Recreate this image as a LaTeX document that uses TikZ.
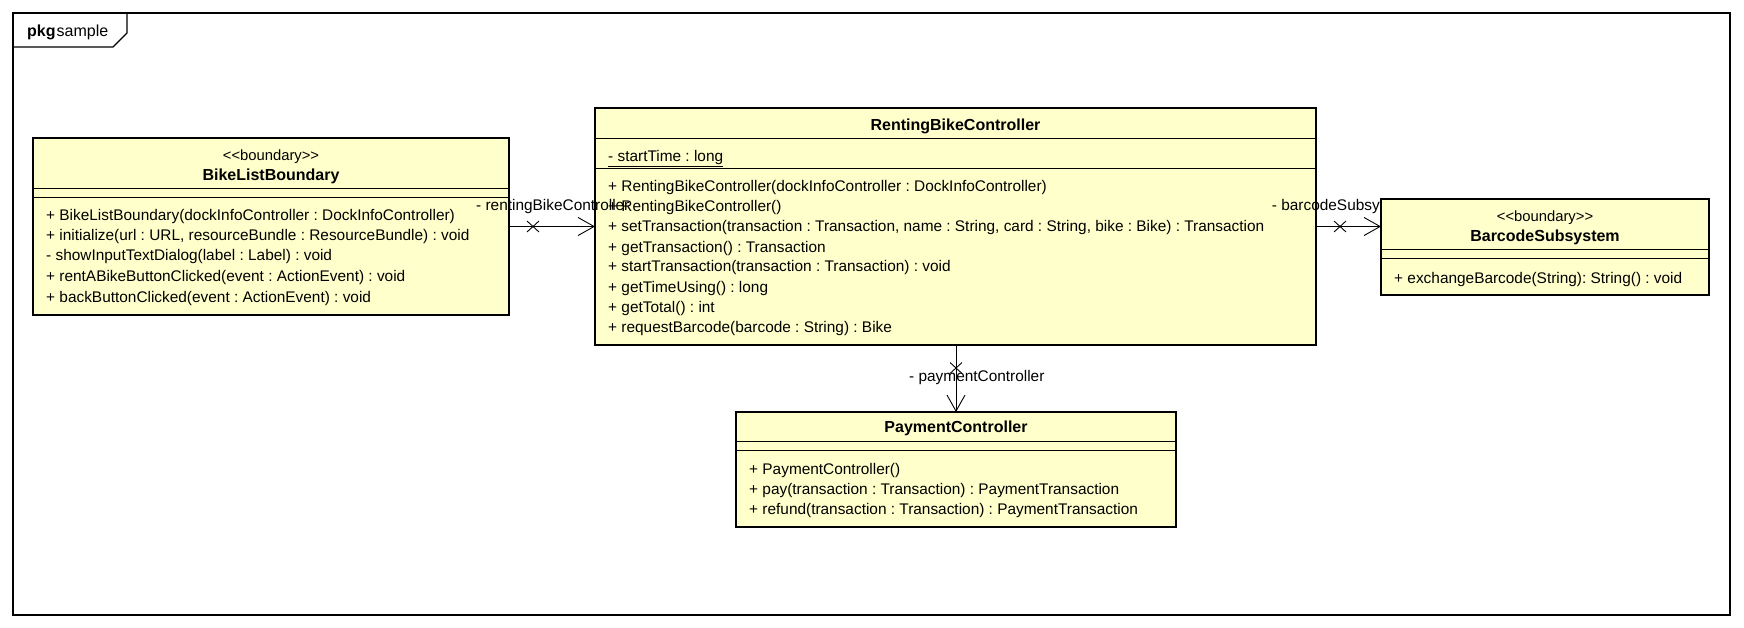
\documentclass[tikz,border=0pt]{standalone}
\usepackage{fontspec}
\setmainfont{Liberation Sans}
\usetikzlibrary{arrows.meta,shapes.misc,calc}
\definecolor{umlfill}{RGB}{255,255,204}
\frenchspacing
\begin{document}
\begin{tikzpicture}[x=1pt,y=-1pt, font=\fontsize{15.4}{17}\selectfont\frenchspacing,
 classbox/.style={draw, line width=2.8pt, fill=umlfill, anchor=north west, inner sep=0pt, outer sep=0pt},
 sepline/.style={line width=1pt},
 txt/.style={anchor=base west, inner sep=0pt},
 ctxt/.style={anchor=base, inner sep=0pt},
 titletxt/.style={anchor=base, inner sep=0pt, font=\fontsize{16}{18}\selectfont\bfseries},
 sttxt/.style={anchor=base, inner sep=0pt, font=\fontsize{14.8}{17}\selectfont},
 assoc/.style={line width=0.9pt, -{Straight Barb[length=16pt,width=18pt,line width=0.9pt]}},
 nav/.style={draw, cross out, line width=0.9pt, minimum width=11pt, minimum height=10pt, inner sep=0pt}]

\useasboundingbox (0,0) rectangle (1744,628);

% package frame
\draw[line width=1.2pt] (13,13) rectangle (1730,615);
\draw[line width=1.2pt] (13,47) -- (113,47) -- (127,33) -- (127,13);
\node[txt, font=\fontsize{16}{18}\selectfont] (pkg) at (27,37) {\textbf{pkg}\hspace{1pt}sample};

% BikeListBoundary
\node[classbox, minimum width=476pt, minimum height=177pt] (blb) at (33,138) {};
\draw[sepline] (33,189) -- (509,189);
\draw[sepline] (33,198) -- (509,198);
\node[sttxt] (blbst) at (271,161) {<{}<boundary>{}>};
\node[titletxt] (blbname) at (271,181) {BikeListBoundary};
\node[txt] (blbm1) at (46,221) {+ BikeListBoundary(dockInfoController : DockInfoController)};
\node[txt] (blbm2) at (46,241) {+ initialize(url : URL, resourceBundle : ResourceBundle) : void};
\node[txt] (blbm3) at (46,261) {- showInputTextDialog(label : Label) : void};
\node[txt] (blbm4) at (46,281) {+ rentABikeButtonClicked(event : ActionEvent) : void};
\node[txt] (blbm5) at (46,302) {+ backButtonClicked(event : ActionEvent) : void};

% RentingBikeController
\node[classbox, minimum width=721pt, minimum height=237pt] (rbc) at (595,108) {};
\draw[sepline] (595,139) -- (1316,139);
\draw[sepline] (595,169) -- (1316,169);
\node[titletxt] (rbcname) at (955.5,131) {RentingBikeController};
\node[txt] (rbca1) at (608,162) {\underline{- startTime : long}};
\node[txt] (rbcm1) at (608,192) {+ RentingBikeController(dockInfoController : DockInfoController)};
\node[txt] (rbcm2) at (608,212) {+ RentingBikeController()};
\node[txt] (rbcm3) at (608,232) {+ setTransaction(transaction : Transaction, name : String, card : String, bike : Bike) : Transaction};
\node[txt] (rbcm4) at (608,252) {+ getTransaction() : Transaction};
\node[txt] (rbcm5) at (608,272) {+ startTransaction(transaction : Transaction) : void};
\node[txt] (rbcm6) at (608,292) {+ getTimeUsing() : long};
\node[txt] (rbcm7) at (608,312) {+ getTotal() : int};
\node[txt] (rbcm8) at (608,332) {+ requestBarcode(barcode : String) : Bike};

% BarcodeSubsystem
\node[classbox, minimum width=328pt, minimum height=96pt] (bcs) at (1381,199) {};
\draw[sepline] (1381,250) -- (1709,250);
\draw[sepline] (1381,259) -- (1709,259);
\node[sttxt] (bcsst) at (1545,222) {<{}<boundary>{}>};
\node[titletxt] (bcsname) at (1545,242) {BarcodeSubsystem};
\node[txt] (bcsm1) at (1394,283) {+ exchangeBarcode(String): String() : void};

% PaymentController
\node[classbox, minimum width=440pt, minimum height=115pt] (pc) at (736,412) {};
\draw[sepline] (736,441.5) -- (1176,441.5);
\draw[sepline] (736,450.5) -- (1176,450.5);
\node[titletxt] (pcname) at (956,432) {PaymentController};
\node[txt] (pcm1) at (749,474) {+ PaymentController()};
\node[txt] (pcm2) at (749,494) {+ pay(transaction : Transaction) : PaymentTransaction};
\node[txt] (pcm3) at (749,514) {+ refund(transaction : Transaction) : PaymentTransaction};

% associations
\draw[assoc] (blb.east) -- (rbc.west);
\node[nav] (x1) at ($(blb.east)+(24,0)$) {};
\draw[assoc] (rbc.east) -- (rbc.east -| bcs.west);
\node[nav] (x2) at ($(rbc.east)+(24,0)$) {};
\draw[assoc] (rbc.south -| pc.north) -- (pc.north);
\node[nav] (x3) at ($(rbc.south -| pc.north)+(0,23)$) {};

% role labels
\node[txt] (l1) at (476,211) {- rentingBikeController};
\node[txt, anchor=base east] (l2) at (1380,211) {- barcodeSubsy};
\node[txt] (l3) at (909,381) {- paymentController};
\end{tikzpicture}
\end{document}
